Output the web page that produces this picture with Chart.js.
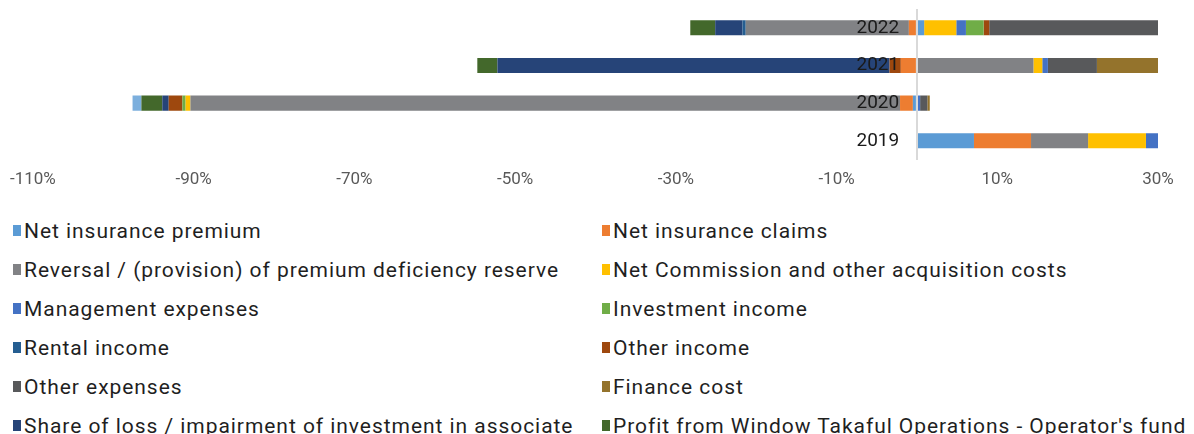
<!DOCTYPE html>
<html>
<head>
<meta charset="utf-8">
<script src="https://cdn.jsdelivr.net/npm/chart.js@4.4.1/dist/chart.umd.min.js"></script>
<style>
  html, body { margin: 0; padding: 0; background: #fff; width: 1194px; height: 434px; overflow: hidden; font-family: Roboto, sans-serif; }
  #wrap { position: absolute; left: 0; top: 0; width: 1194px; height: 200px; }
  #legend { position: absolute; left: 13px; top: 211px; width: 1181px; display: grid; grid-template-columns: 589px 592px; }
  .lg { height: 39px; font-size: 21px; letter-spacing: 0.95px; color: #1f1f1f; white-space: nowrap; display: flex; align-items: center; }
  .lg i { display: inline-block; width: 8px; height: 11px; margin-right: 3px; flex: none; }
</style>
</head>
<body>
<div id="wrap"><canvas id="chart"></canvas></div>
<div id="legend"></div>
<script>
// ── Data (percent) ────────────────────────────────────────────────────────────
const years = ['2022', '2021', '2020', '2019'];
const xTicks = [-110, -90, -70, -50, -30, -10, 0, 10, 30];   // 0 carries the axis line only

const netPremium      = [0.9, 0, -0.5, 7.1];
const netClaims       = [-1.0, -2.0, -1.6, 7.1];
const pdrReversal     = [-20.3, 14.5, -88.3, 7.1];
const netCommission   = [4.0, 1.1, -0.6, 7.2];
const mgmtExpenses    = [1.2, 0.7, 0.4, 1.7];
const investIncome    = [2.2, 0, -0.4, 0];
const rentalIncome    = [-0.4, 0, 0, 0];
const otherIncome     = [0.7, -1.4, -1.7, 0];
const otherExpenses   = [21.2, 6.1, 0.9, 0];
const financeCost     = [0, 7.7, 0.3, 0];
const shareOfLoss     = [-3.4, -48.8, -0.8, 0];
const wtoProfit       = [-3.1, -2.5, -2.6, 0];
const taxation        = [0, 0, -1.1, 0];

const SERIES = [
  ['Net insurance premium', netPremium, '#5B9BD5'],
  ['Net insurance claims', netClaims, '#ED7D31'],
  ['Reversal / (provision) of premium deficiency reserve', pdrReversal, '#818285'],
  ['Net Commission and other acquisition costs', netCommission, '#FFC000'],
  ['Management expenses', mgmtExpenses, '#4472C4'],
  ['Investment income', investIncome, '#70AD47'],
  ['Rental income', rentalIncome, '#255E91'],
  ['Other income', otherIncome, '#9E480E'],
  ['Other expenses', otherExpenses, '#58595B'],
  ['Finance cost', financeCost, '#94732C'],
  ['Share of loss / impairment of investment in associate', shareOfLoss, '#264478'],
  ["Profit from Window Takaful Operations - Operator's fund", wtoProfit, '#43682B'],
  ['Taxation', taxation, '#7CAFDD'],
];

const FONT = 'Roboto, sans-serif';

const chart = new Chart(document.getElementById('chart'), {
  type: 'bar',
  data: {
    labels: years,
    datasets: SERIES.map(([label, data, color]) => ({
      label, data, backgroundColor: color, borderWidth: 0,
      categoryPercentage: 1, barPercentage: 0.4,
    })),
  },
  options: {
    indexAxis: 'y',
    responsive: true,
    maintainAspectRatio: false,
    animation: false,
    layout: { padding: { left: 32, right: 36, top: 9, bottom: 0 } },
    plugins: { legend: { display: false }, tooltip: { enabled: false } },
    scales: {
      x: {
        stacked: true,
        min: -110, max: 30,
        border: { display: false },
        // only the zero line is visible, drawn over the bars
        grid: {
          drawTicks: false, lineWidth: 2, z: 1,
          color: (c) => (c.tick && c.tick.value === 0 ? '#d9d9d9' : 'rgba(0,0,0,0)'),
        },
        afterBuildTicks: (s) => { s.ticks = xTicks.map((v) => ({ value: v })); },
        ticks: {
          padding: 10, color: '#595959', font: { family: FONT, size: 17 },
          callback: (v) => (v === 0 ? '' : v + '%'),
        },
      },
      y: {
        stacked: true,
        position: { x: -2.2 },       // year labels sit just left of the zero line
        afterFit: (s) => { s.width = 0; s.paddingTop = 0; s.paddingBottom = 0; },
        grid: { display: false },
        border: { display: false },
        ticks: { z: 1, color: '#1a1a1a', font: { family: FONT, size: 19 } },
      },
    },
  },
});

// ── Legend (two columns, row-major like the source) ─────────────────────────
document.getElementById('legend').innerHTML = chart.data.datasets.map((d) =>
  `<div class="lg"><i style="background:${d.backgroundColor}"></i><span>${d.label}</span></div>`).join('');
</script>
</body>
</html>
